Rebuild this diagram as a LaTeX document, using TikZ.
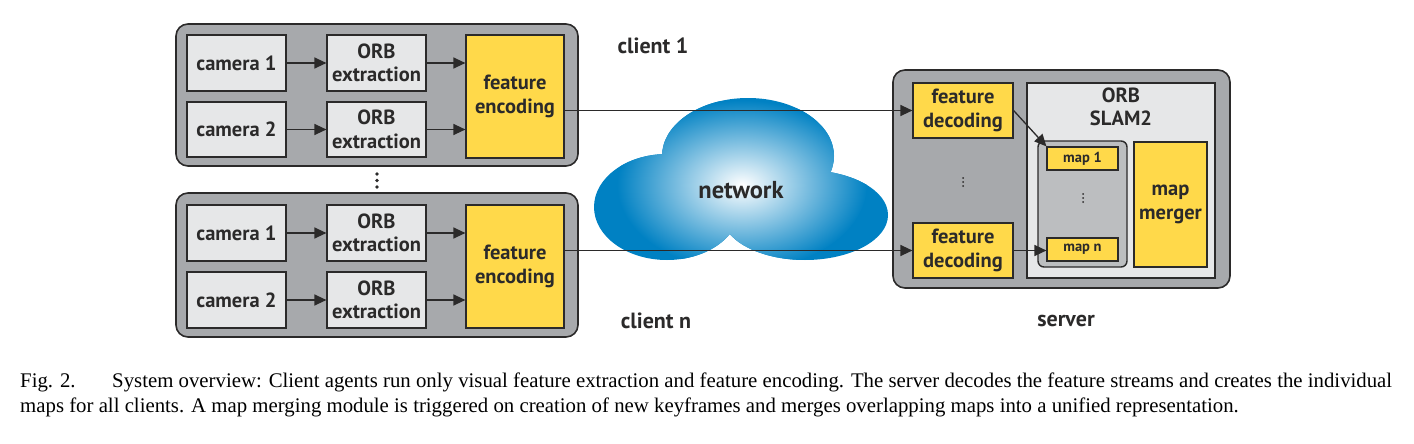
\documentclass[tikz,border=0pt]{standalone}
\usepackage{fontspec}
\setmainfont{Liberation Serif}
\newfontfamily\diafont{PT Sans}
\usetikzlibrary{arrows.meta,calc}
\definecolor{outerg}{HTML}{A7A9AC}
\definecolor{lightg}{HTML}{E6E7E8}
\definecolor{midg}{HTML}{BCBEC0}
\definecolor{yel}{HTML}{FFD94A}
\definecolor{linec}{HTML}{2B2A2A}
\definecolor{cloudb}{HTML}{0081C3}
\newcommand\mybox[7]{\node[#6, minimum width={#4-#2}, minimum height={#5-#3}, inner sep=0pt] (#1) at ({(#2+#4)/2},{(#3+#5)/2}) {#7};}
\begin{document}
\begin{tikzpicture}[x=1pt,y=-1pt,
  outerbox/.style={draw=linec, line width=1.6pt, fill=outerg, rounded corners=12pt},
  innerbox/.style={draw=linec, line width=1.4pt, fill=midg, rounded corners=6pt},
  lbox/.style={draw=linec, line width=1.2pt, fill=lightg, align=center, text=linec, font=\diafont\bfseries\fontsize{20.5}{23.5}\selectfont},
  ybox/.style={lbox, fill=yel},
  sbox/.style={draw=linec, line width=1.2pt, fill=yel, text=linec, font=\diafont\bfseries\fontsize{14.5}{16}\selectfont},
  arr/.style={draw=linec, line width=1.3pt, -{Triangle[length=12pt,width=11pt]}},
  lab/.style={font=\diafont\bfseries\fontsize{22}{24}\selectfont, text=linec},
  dotc/.style={fill=linec},
  captxt/.style={anchor=base west, inner sep=0pt, font=\fontsize{20.8}{24}\selectfont}]
\useasboundingbox (0,0) rectangle (1414,444);
% client 1
\mybox{c1}{176}{24}{578}{166}{outerbox}{}
\mybox{c1cam1}{187}{35}{286}{91}{lbox}{camera 1}
\mybox{c1cam2}{187}{102}{286}{157}{lbox}{camera 2}
\mybox{c1orb1}{327}{35}{426}{91}{lbox}{ORB\\extraction}
\mybox{c1orb2}{327}{102}{426}{157}{lbox}{ORB\\extraction}
\mybox{c1fe}{466}{35}{564}{158}{ybox}{feature\\encoding}
\draw[arr] (c1cam1) -- (c1orb1);
\draw[arr] (c1cam2) -- (c1orb2);
\draw[arr] (c1orb1.east) -- (c1orb1.east -| c1fe.west);
\draw[arr] (c1orb2.east) -- (c1orb2.east -| c1fe.west);
% dots between clients
\fill[dotc] (377,174) circle (1.9) (377,180.5) circle (1.9) (377,187) circle (1.9);
% client n
\mybox{cn}{176}{193}{578}{337}{outerbox}{}
\mybox{cncam1}{187}{205}{286}{261}{lbox}{camera 1}
\mybox{cncam2}{187}{272}{286}{328}{lbox}{camera 2}
\mybox{cnorb1}{327}{205}{426}{261}{lbox}{ORB\\extraction}
\mybox{cnorb2}{327}{272}{426}{328}{lbox}{ORB\\extraction}
\mybox{cnfe}{466}{205}{564}{328}{ybox}{feature\\encoding}
\draw[arr] (cncam1) -- (cnorb1);
\draw[arr] (cncam2) -- (cnorb2);
\draw[arr] (cnorb1.east) -- (cnorb1.east -| cnfe.west);
\draw[arr] (cnorb2.east) -- (cnorb2.east -| cnfe.west);
\node[lab] (l1) at (653,46) {client 1};
\node[lab] (ln) at (656,321) {client n};
\node[lab] (ls) at (1066,321) {server};
% cloud
\begin{scope}
\fill[cloudb] (748,156) ellipse [x radius=86, y radius=58]
              (667,207) ellipse [x radius=73, y radius=53]
              (805,215) ellipse [x radius=83, y radius=45];
\clip (748,156) ellipse [x radius=86, y radius=58]
      (667,207) ellipse [x radius=73, y radius=53]
      (805,215) ellipse [x radius=83, y radius=45];
\shade[inner color=white, outer color=cloudb] (742,185) ellipse [x radius=125, y radius=85];
\end{scope}
\node[font=\diafont\bfseries\fontsize{24.5}{26}\selectfont, text=linec] (net) at (741,190) {network};
% server
\mybox{srv}{893}{70}{1230}{288}{outerbox}{}
\mybox{fd1}{913}{83}{1013}{138}{ybox}{feature\\decoding}
\mybox{fd2}{913}{223}{1013}{278}{ybox}{feature\\decoding}
\mybox{slam}{1027}{83}{1215}{278}{lbox}{}
\node[font=\diafont\bfseries\fontsize{20.5}{23.5}\selectfont, align=center, text=linec, anchor=north] (slamlab) at (1121,84) {ORB\\SLAM2};
\mybox{maps}{1038}{141}{1127}{267}{innerbox}{}
\mybox{m1}{1047}{147}{1118}{170}{sbox}{map 1}
\mybox{mn}{1047}{238}{1118}{261}{sbox}{map n}
\mybox{mm}{1134}{142}{1207}{267}{ybox}{map\\merger}
\fill[dotc] (963,178) circle (1) (963,182) circle (1) (963,186) circle (1);
\fill[dotc] (1083,194) circle (1) (1083,198) circle (1) (1083,202) circle (1);
\draw[arr] (c1fe.east |- fd1.west) -- (fd1.west);
\draw[arr] (cnfe.east |- fd2.west) -- (fd2.west);
\draw[arr] (fd1.east) -- (m1.north west);
\draw[arr] (fd2.east) -- (fd2.east -| mn.west);
% caption
\node[captxt] (fig) at (20,387) {Fig. 2.};
\node[captxt] (cap1) at (112,387) {System overview: Client agents run only visual feature extraction and feature encoding. The server decodes the feature streams and creates the individual};
\node[captxt] (cap2) at (20,412) {maps for all clients. A map merging module is triggered on creation of new keyframes and merges overlapping maps into a unified representation.};
\end{tikzpicture}
\end{document}
